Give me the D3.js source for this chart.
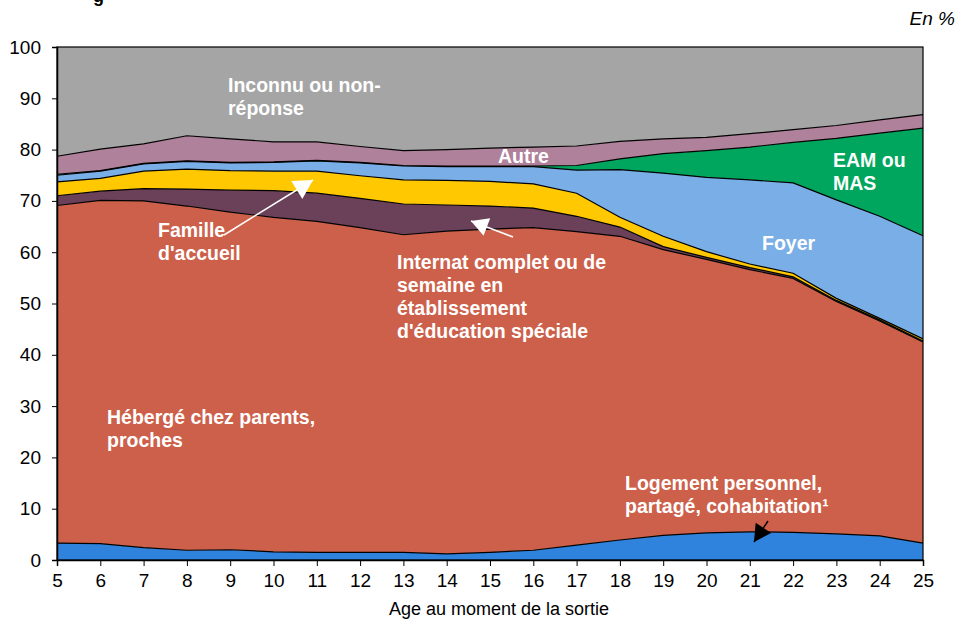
<!DOCTYPE html>
<html>
<head>
<meta charset="utf-8">
<script src="https://cdn.jsdelivr.net/npm/d3@7"></script>
<style>
  body { margin: 0; background: #fff; }
  svg text { font-family: "Liberation Sans", Arial, sans-serif; }
</style>
</head>
<body>
<div id="chart"></div>
<script>
// Ages (x axis)
const ages = d3.range(5, 26);

// Series values in % (stacked bottom to top)
const logement = [3.3, 3.2, 2.4, 1.9, 2.0, 1.6, 1.5, 1.5, 1.5, 1.2, 1.5, 1.9, 2.9, 3.9, 4.8, 5.3, 5.5, 5.4, 5.1, 4.7, 3.3];
const parents = [65.8, 66.9, 67.6, 67.1, 65.8, 65.2, 64.5, 63.3, 61.9, 62.9, 63.0, 62.9, 61.1, 59.2, 55.7, 53.3, 51.1, 49.5, 45.3, 41.9, 39.2];
const internat = [1.9, 1.8, 2.4, 3.3, 4.3, 5.2, 5.5, 5.7, 6.0, 5.1, 4.5, 3.8, 3.0, 1.8, 0.6, 0.4, 0.4, 0.3, 0.2, 0.2, 0.2];
const famille = [2.7, 2.5, 3.4, 3.9, 3.8, 3.8, 4.3, 4.4, 4.7, 4.8, 4.8, 4.7, 4.5, 1.9, 2.0, 1.1, 0.7, 0.7, 0.4, 0.3, 0.4];
const foyer = [1.3, 1.4, 1.4, 1.5, 1.5, 1.7, 2.0, 2.5, 2.7, 2.7, 2.9, 3.4, 4.5, 9.3, 12.3, 14.5, 16.4, 17.6, 19.2, 19.9, 20.1];
const eam = [0.2, 0.1, 0.1, 0.1, 0.1, 0.1, 0.1, 0.1, 0.1, 0.1, 0.1, 0.1, 0.9, 2.1, 3.8, 5.2, 6.4, 7.9, 12.0, 16.2, 21.0];
const autre = [3.5, 4.2, 3.8, 4.9, 4.6, 3.9, 3.6, 3.1, 2.9, 3.2, 3.5, 3.7, 3.8, 3.4, 2.9, 2.6, 2.6, 2.5, 2.5, 2.6, 2.6];
const inconnu = [21.3, 19.9, 18.9, 17.3, 17.9, 18.5, 18.5, 19.4, 20.2, 20.0, 19.7, 19.5, 19.3, 18.4, 17.9, 17.6, 16.9, 16.1, 15.3, 14.2, 13.2];

const yTicks = d3.range(0, 101, 10);

const seriesDefs = [
    { key: 'logement', values: logement, color: '#2f83dc' },
    { key: 'parents', values: parents, color: '#cd604a' },
    { key: 'internat', values: internat, color: '#6b4159' },
    { key: 'famille', values: famille, color: '#ffc800' },
    { key: 'foyer', values: foyer, color: '#7aaee7' },
    { key: 'eam', values: eam, color: '#00a65d' },
    { key: 'autre', values: autre, color: '#b0819b' },
    { key: 'inconnu', values: inconnu, color: '#a5a5a5' }
];

const width = 965, height = 619;
const margin = { top: 47, right: 42, bottom: 59, left: 57 };

const svg = d3.select('#chart').append('svg')
    .attr('width', width)
    .attr('height', height);

const x = d3.scaleLinear().domain([5, 25]).range([margin.left, width - margin.right]);
const y = d3.scaleLinear().domain([0, 100]).range([height - margin.bottom, margin.top]);

// Build table for the stack
const table = ages.map((a, i) => {
    const row = { age: a };
    seriesDefs.forEach(s => { row[s.key] = s.values[i]; });
    return row;
});

const stack = d3.stack().keys(seriesDefs.map(s => s.key));
const layers = stack(table);

const area = d3.area()
    .x(d => x(d.data.age))
    .y0(d => y(d[0]))
    .y1(d => y(Math.min(d[1], 100)));

const line = d3.line()
    .x(d => x(d.data.age))
    .y(d => y(Math.min(d[1], 100)));

svg.append('g').selectAll('path')
    .data(layers)
    .enter()
    .append('path')
    .attr('d', area)
    .attr('fill', (d, i) => seriesDefs[i].color);

// Black boundary lines on top of each layer
svg.append('g').selectAll('path')
    .data(layers.slice(0, -1))
    .enter()
    .append('path')
    .attr('d', line)
    .attr('fill', 'none')
    .attr('stroke', '#000')
    .attr('stroke-width', 1.2);

// Frame
svg.append('rect')
    .attr('x', margin.left)
    .attr('y', margin.top)
    .attr('width', width - margin.left - margin.right)
    .attr('height', height - margin.top - margin.bottom)
    .attr('fill', 'none')
    .attr('stroke', '#000')
    .attr('stroke-width', 1.2);

// Axes
const yAxis = d3.axisLeft(y).tickValues(yTicks).tickSize(5).tickPadding(11);
const gy = svg.append('g')
    .attr('transform', `translate(${margin.left},0)`)
    .call(yAxis);
gy.select('.domain').attr('stroke-width', 1.5);
gy.selectAll('text').attr('font-size', 19).attr('fill', '#000')
    .style('font-family', 'Liberation Sans, Arial, sans-serif');

const xAxis = d3.axisBottom(x).tickValues(ages).tickSize(6).tickPadding(8);
const gx = svg.append('g')
    .attr('transform', `translate(0,${height - margin.bottom})`)
    .call(xAxis);
gx.select('.domain').attr('stroke-width', 1.5);
gx.selectAll('text').attr('font-size', 19).attr('fill', '#000')
    .style('font-family', 'Liberation Sans, Arial, sans-serif');

// Axis title
svg.append('text')
    .attr('x', 499)
    .attr('y', 615)
    .attr('text-anchor', 'middle')
    .attr('font-size', 18)
    .text('Age au moment de la sortie');

// Unit
svg.append('text')
    .attr('x', 955)
    .attr('y', 25)
    .attr('text-anchor', 'end')
    .attr('font-size', 19)
    .attr('font-style', 'italic')
    .text('En %');

// Cropped title remnant
svg.append('text')
    .attr('x', 93)
    .attr('y', 2)
    .attr('font-size', 18)
    .attr('font-weight', 'bold')
    .text('g');

const arrows = [
    { x1: 224, y1: 235, x2: 313, y2: 180, color: '#fff', size: 19 },
    { x1: 513, y1: 237, x2: 471, y2: 221, color: '#fff', size: 17 },
    { x1: 768, y1: 521, x2: 754, y2: 542, color: '#000', size: 17 }
];
arrows.forEach(a => {
    svg.append('line')
        .attr('x1', a.x1).attr('y1', a.y1)
        .attr('x2', a.x2).attr('y2', a.y2)
        .attr('stroke', a.color)
        .attr('stroke-width', 1.5);
    // Filled head
    const ang = Math.atan2(a.y2 - a.y1, a.x2 - a.x1);
    const s = a.size, w = s * 0.55;
    const bx = a.x2 - s * Math.cos(ang), by = a.y2 - s * Math.sin(ang);
    const px = -Math.sin(ang) * w, py = Math.cos(ang) * w;
    svg.append('path')
        .attr('d', `M${a.x2},${a.y2} L${bx + px},${by + py} L${bx - px},${by - py} Z`)
        .attr('fill', a.color);
});

// Labels inside areas
const labels = [
    { x: 228, y: 92, lines: ['Inconnu ou non-', 'réponse'] },
    { x: 498, y: 163, lines: ['Autre'] },
    { x: 833, y: 167, lines: ['EAM ou', 'MAS'] },
    { x: 762, y: 250, lines: ['Foyer'] },
    { x: 158, y: 237, lines: ['Famille', "d'accueil"] },
    { x: 397, y: 269, lines: ['Internat complet ou de', 'semaine en', 'établissement', "d'éducation spéciale"] },
    { x: 107, y: 424, lines: ['Hébergé chez parents,', 'proches'] },
    { x: 625, y: 490, lines: ['Logement personnel,', 'partagé, cohabitation¹'] }
];
labels.forEach(l => {
    const t = svg.append('text')
        .attr('x', l.x)
        .attr('y', l.y)
        .attr('fill', '#fff')
        .attr('font-size', 19.5)
        .attr('font-weight', 'bold');
    l.lines.forEach((s, i) => {
        t.append('tspan')
            .attr('x', l.x)
            .attr('dy', i === 0 ? 0 : 23)
            .text(s);
    });
});
</script>
</body>
</html>
